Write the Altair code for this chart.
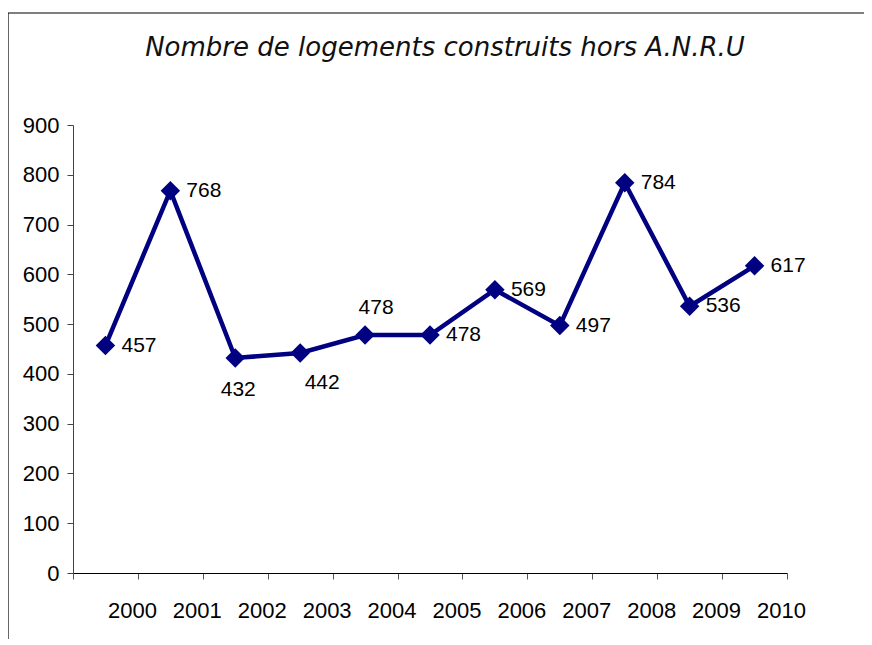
import json
import altair as alt
import pandas as pd

years = [2000, 2001, 2002, 2003, 2004, 2005, 2006, 2007, 2008, 2009, 2010]
values = [457, 768, 432, 442, 478, 478, 569, 497, 784, 536, 617]
y_ticks = [0, 100, 200, 300, 400, 500, 600, 700, 800, 900]
title_text = "Nombre de logements construits hors A.N.R.U"

right_years = [2000, 2001, 2005, 2006, 2007, 2008, 2009, 2010]
below_a_years = [2002]
below_b_years = [2003]
above_years = [2004]

df = pd.DataFrame({"year": years, "value": values,
                   "pos": [i + 0.5 for i in range(len(years))]})

NAVY = "#000080"
W, H = 714, 448

label_expr = ("datum.value >= 1 ? " + json.dumps([str(y) for y in years])
              + "[datum.value - 1] : ''")

x = alt.X("pos:Q",
          scale=alt.Scale(domain=[0, len(years)], nice=False, zero=False),
          axis=alt.Axis(values=list(range(len(years) + 1)), labelExpr=label_expr,
                        grid=False, title=None, domainColor="#000000",
                        tickColor="#555555", tickSize=6, labelPadding=21,
                        labelOffset=-6,
                        labelOverlap=False, labelFlush=False,
                        labelFont="Liberation Sans", labelFontSize=22,
                        labelColor="#000000", labelAngle=0))
y = alt.Y("value:Q",
          scale=alt.Scale(domain=[0, 900], nice=False),
          axis=alt.Axis(values=y_ticks, grid=False, title=None,
                        domainColor="#444444", tickColor="#444444", tickSize=6,
                        labelPadding=8, labelOverlap=False, labelFlush=False,
                        labelFont="Liberation Sans",
                        labelFontSize=22, labelColor="#000000"))

base = alt.Chart(df)
line = base.mark_line(color=NAVY, strokeWidth=4.5).encode(x=x, y=y)
pts = base.mark_point(shape="diamond", filled=True, color=NAVY, size=380,
                      opacity=1).encode(x=x, y=y)


def labels(yrs, align, dx, dy):
    return base.transform_filter(
        alt.FieldOneOfPredicate(field="year", oneOf=yrs)
    ).mark_text(align=align, baseline="middle", dx=dx, dy=dy,
                font="Liberation Sans", fontSize=21, color="#000000").encode(
        x=x, y=y, text="value:Q")


one = pd.DataFrame({"t": [title_text]})
frame_left = alt.Chart(one).mark_rule(
    color="#000000", strokeWidth=1.2).encode(
    x=alt.value(-65), y=alt.value(-112), y2=alt.value(700))
frame_top = alt.Chart(one).mark_rule(
    color="#000000", strokeWidth=1.2).encode(
    x=alt.value(-65), x2=alt.value(900), y=alt.value(-112))
title = alt.Chart(one).mark_text(
    font="DejaVu Sans", fontSize=26, fontStyle="italic", fontWeight="normal",
    color="#111111", align="center", baseline="middle").encode(
    x=alt.value(372), y=alt.value(-77), text="t:N")

chart = alt.layer(
    frame_left, frame_top, title, line, pts,
    labels(right_years, "left", 16, 0),
    labels(below_a_years, "center", 3, 32),
    labels(below_b_years, "center", 22, 30),
    labels(above_years, "center", 11, -27),
).properties(
    width=W, height=H,
    background="#ffffff",
    padding={"left": 65, "top": 117, "right": 77, "bottom": 66},
    autosize=alt.AutoSizeParams(type="none"),
).configure_view(strokeWidth=0, stroke=None)

chart.save("out.html", embed_options={"renderer": "svg", "actions": False})
